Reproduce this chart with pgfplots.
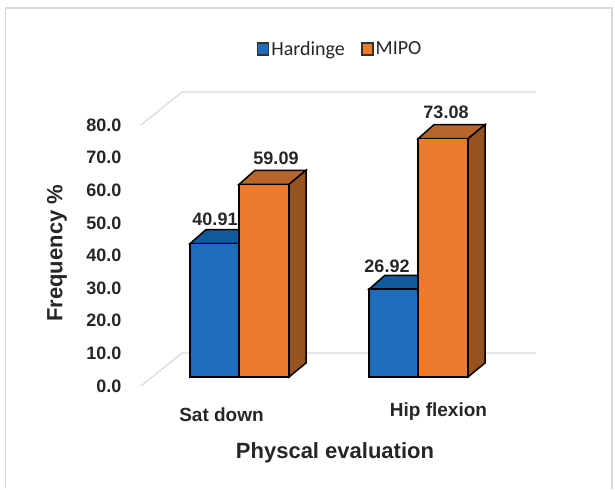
\documentclass[border=0pt]{standalone}
\usepackage{pgfplots}
\pgfplotsset{compat=1.18}
\usepackage{fontspec}
\setmainfont{Liberation Sans}
\newfontfamily\legfont{Carlito}
\definecolor{fb}{HTML}{1F6DBA}
\definecolor{tb}{HTML}{115A9C}
\definecolor{fo}{HTML}{ED7B2D}
\definecolor{to}{HTML}{B8652C}
\definecolor{so}{HTML}{96531F}
\definecolor{txt}{HTML}{262626}
\definecolor{gr}{HTML}{D9D9D9}
\begin{document}
\begin{tikzpicture}[x=1pt,y=1pt]
\begin{axis}[
  scale only axis, width=615pt, height=489pt,
  xmin=0, xmax=615, ymin=-34.36, ymax=115.64,
  axis line style={draw=none}, tick style={draw=none},
  axis x line*=bottom, axis y line*=left,
  clip=false,
  xtick={221.5,438.5}, xticklabels={{\raisebox{0pt}[0pt][0pt]{Sat down}},{\raisebox{5pt}[0pt][0pt]{Hip flexion}}},
  ytick={0,10,...,80},
  /pgf/number format/assume math mode=true,
  /pgf/number format/fixed, /pgf/number format/fixed zerofill, /pgf/number format/precision=1,
  yticklabel style={font=\bfseries\fontsize{18}{20}\selectfont, text=txt, anchor=east, xshift=125pt, yshift=-9pt},
  xticklabel style={font=\bfseries\fontsize{19}{21}\selectfont, text=txt, anchor=center, yshift=68pt},
  xlabel={Physcal evaluation}, ylabel={Frequency \%},
  xlabel style={font=\bfseries\fontsize{22}{24}\selectfont, text=txt, at={(axis description cs:0.5447,0.0736)}, anchor=center},
  ylabel style={font=\bfseries\fontsize{22}{24}\selectfont, text=txt, at={(axis description cs:0.0927,0.482)}, anchor=center},
  legend style={draw=none, fill=none, at={(axis cs:340,100.6)}, anchor=center, legend columns=2,
    font=\legfont\fontsize{20}{22}\selectfont, text=txt,
    /tikz/every even column/.append style={column sep=14pt}},
  legend image code/.code={\draw[#1,line width=1.8pt] (0pt,-6pt) rectangle (11pt,6pt);},
]
% walls
\addplot[forget plot, gr, line width=1.2pt] coordinates {(141,-2.76)(182,7.36)(536,7.36)};
\addplot[forget plot, gr, line width=1.2pt] coordinates {(141,77.3)(182,87.4)(536,87.4)};
% legend entries
\addlegendimage{fill=fb, draw=black!80}\addlegendentry{Hardinge}
\addlegendimage{fill=fo, draw=black!80}\addlegendentry{MIPO}
% blue tops
\addplot[forget plot, fill=tb, draw=black, line width=1.5pt] coordinates {(190,40.91)(206,45.2)(255,45.2)(239,40.91)} -- cycle;
\addplot[forget plot, fill=tb, draw=black, line width=1.5pt] coordinates {(369,26.92)(385,31.2)(434,31.2)(418,26.92)} -- cycle;
% orange tops and sides
\addplot[forget plot, fill=to, draw=black, line width=1.5pt] coordinates {(239,59.09)(255,63.4)(306,63.4)(289,59.09)} -- cycle;
\addplot[forget plot, fill=to, draw=black, line width=1.5pt] coordinates {(418,73.08)(434,77.4)(485,77.4)(468,73.08)} -- cycle;
\addplot[forget plot, fill=so, draw=black, line width=1.5pt] coordinates {(289,0)(306,4.3)(306,63.4)(289,59.09)} -- cycle;
\addplot[forget plot, fill=so, draw=black, line width=1.5pt] coordinates {(468,0)(485,4.3)(485,77.4)(468,73.08)} -- cycle;
% fronts
\addplot[forget plot, ybar, bar width=49, bar shift=0pt, fill=fb, draw=black, line width=1.5pt] coordinates {(214.5,40.91)(393.5,26.92)};
\addplot[forget plot, ybar, bar width=50, bar shift=0pt, fill=fo, draw=black, line width=1.5pt] coordinates {(264,59.09)(443,73.08)};
% value labels
\addplot[forget plot, draw=none, mark=none, point meta=explicit symbolic,
  nodes near coords, every node near coord/.append style={anchor=center, font=\bfseries\fontsize{18}{20}\selectfont, text=txt}]
  coordinates {(215,48.5)[40.91] (276,67.2)[59.09] (387,34)[26.92] (446,81.3)[73.08]};
\end{axis}
\draw[gr, line width=1.5pt] (5.5,0) -- (5.5,481) -- (612,481) -- (612,0);
\end{tikzpicture}
\end{document}
